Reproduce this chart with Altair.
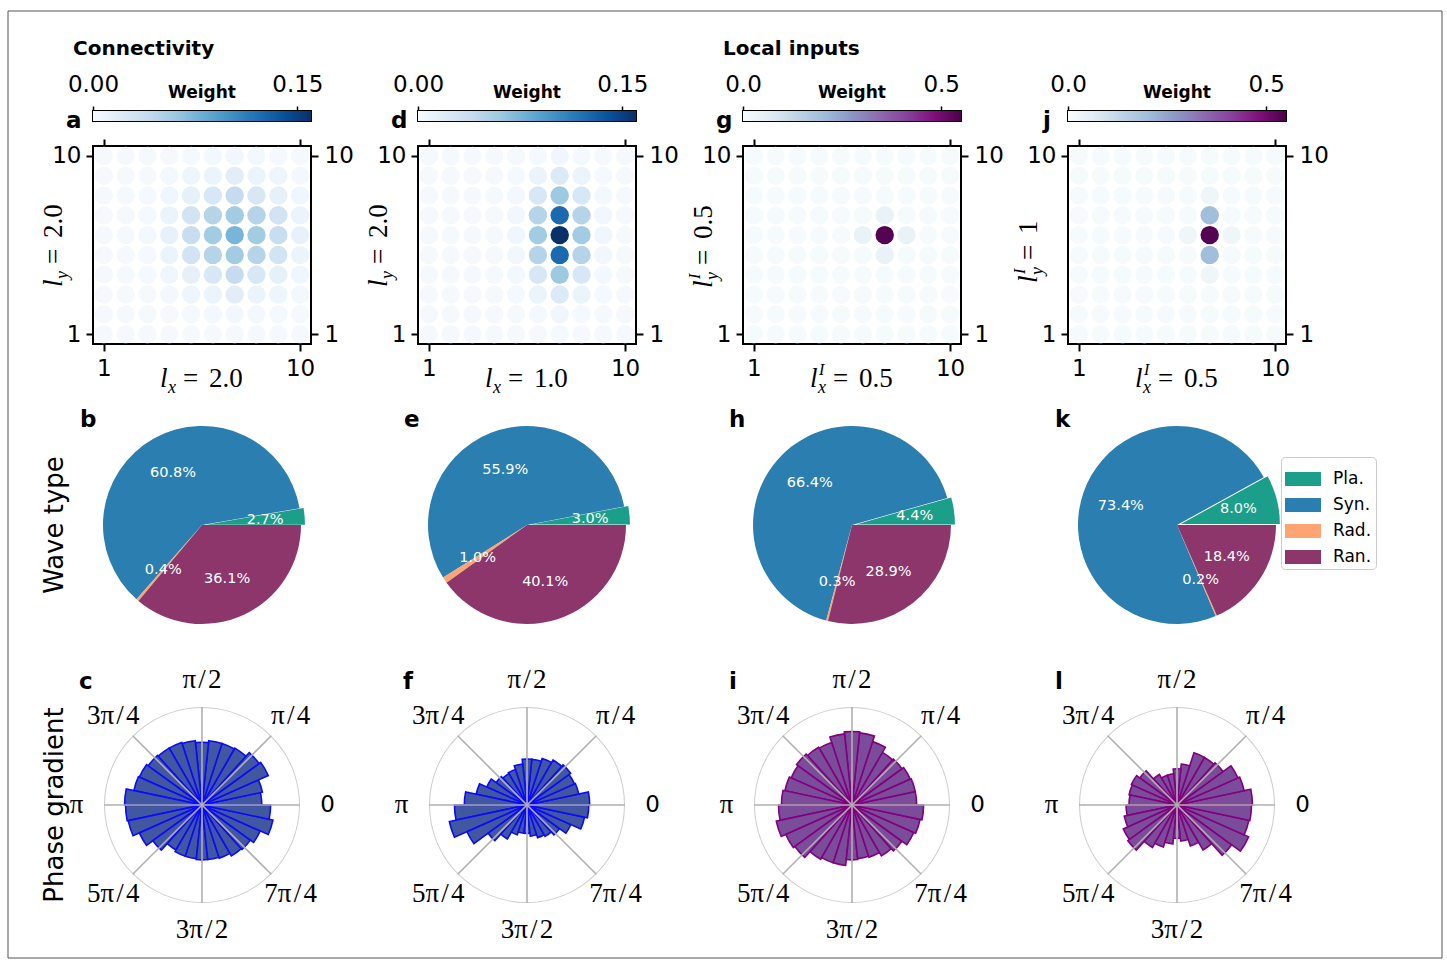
import math
import altair as alt
import pandas as pd

SANS = "DejaVu Sans"
SERIF = "Liberation Serif"

# ---------------- data ----------------
GRID_TICKS = [1, 10]

# connectivity / input weights on the 10x10 grid, rows from y = 10 (top) to y = 1
W_A = [
    [.002, .002, .002, .002, .003, .004, .005, .004, .003, .002],
    [.002, .002, .002, .004, .007, .010, .017, .010, .007, .004],
    [.002, .002, .003, .006, .014, .025, .040, .025, .014, .006],
    [.002, .002, .003, .009, .030, .048, .058, .048, .030, .009],
    [.002, .002, .004, .012, .038, .058, .075, .058, .038, .012],
    [.002, .002, .003, .009, .030, .048, .058, .048, .030, .009],
    [.002, .002, .003, .006, .014, .025, .040, .025, .014, .006],
    [.002, .002, .002, .004, .007, .010, .017, .010, .007, .004],
    [.002, .002, .002, .002, .003, .004, .005, .004, .003, .002],
    [.002, .002, .002, .002, .002, .002, .002, .002, .002, .002],
]
W_D = [
    [.002, .002, .002, .002, .002, .003, .006, .003, .002, .002],
    [.002, .002, .002, .002, .003, .010, .022, .010, .003, .002],
    [.002, .002, .002, .002, .004, .025, .060, .025, .004, .002],
    [.002, .002, .002, .002, .005, .048, .125, .048, .005, .002],
    [.002, .002, .002, .002, .006, .058, .160, .058, .006, .002],
    [.002, .002, .002, .002, .005, .048, .125, .048, .005, .002],
    [.002, .002, .002, .002, .004, .025, .060, .025, .004, .002],
    [.002, .002, .002, .002, .003, .010, .022, .010, .003, .002],
    [.002, .002, .002, .002, .002, .003, .006, .003, .002, .002],
    [.002, .002, .002, .002, .002, .002, .003, .002, .002, .002],
]
W_G = [
    [.006, .006, .006, .006, .006, .006, .006, .006, .006, .006],
    [.006, .006, .006, .006, .006, .006, .006, .006, .006, .006],
    [.006, .006, .006, .006, .006, .006, .006, .006, .006, .006],
    [.006, .006, .006, .006, .006, .006, .045, .006, .006, .006],
    [.006, .006, .006, .006, .006, .045, .540, .045, .006, .006],
    [.006, .006, .006, .006, .006, .006, .045, .006, .006, .006],
    [.006, .006, .006, .006, .006, .006, .006, .006, .006, .006],
    [.006, .006, .006, .006, .006, .006, .006, .006, .006, .006],
    [.006, .006, .006, .006, .006, .006, .006, .006, .006, .006],
    [.006, .006, .006, .006, .006, .006, .006, .006, .006, .006],
]
W_J = [
    [.006, .006, .006, .006, .006, .006, .006, .006, .006, .006],
    [.006, .006, .006, .006, .006, .006, .006, .006, .006, .006],
    [.006, .006, .006, .006, .006, .006, .025, .006, .006, .006],
    [.006, .006, .006, .006, .006, .006, .200, .006, .006, .006],
    [.006, .006, .006, .006, .006, .025, .540, .025, .006, .006],
    [.006, .006, .006, .006, .006, .006, .200, .006, .006, .006],
    [.006, .006, .006, .006, .006, .006, .025, .006, .006, .006],
    [.006, .006, .006, .006, .006, .006, .006, .006, .006, .006],
    [.006, .006, .006, .006, .006, .006, .006, .006, .006, .006],
    [.006, .006, .006, .006, .006, .006, .006, .006, .006, .006],
]

BLUES = ["#f7fbff", "#deebf7", "#c6dbef", "#9ecae1", "#6baed6",
         "#4292c6", "#2171b5", "#08519c", "#08306b"]
BUPU = ["#f7fcfd", "#e0ecf4", "#bfd3e6", "#9ebcda", "#8c96c6",
        "#8c6bb1", "#88419d", "#810f7c", "#4d004b"]
VMAX_CONN = 0.16
VMAX_INPUT = 0.55

# wave-type shares (percent)
WAVE_TYPES = ["Pla.", "Syn.", "Rad.", "Ran."]
WAVE_COLORS = ["#1b9e8a", "#2a7fb0", "#fca572", "#8c366b"]
SHARE_B = [2.7, 60.8, 0.4, 36.1]
SHARE_E = [3.0, 55.9, 1.0, 40.1]
SHARE_H = [4.4, 66.4, 0.3, 28.9]
SHARE_K = [8.0, 73.4, 0.2, 18.4]

# phase-gradient direction histograms: 30 bins of 12 degrees, from 0 counter-clockwise
BIN_DEG = 12
ROSE_C = [.61, .63, .74, .72, .67, .66, .66, .64, .66, .67, .67, .68, .70, .71, .79,
          .78, .77, .70, .62, .53, .55, .55, .56, .56, .57, .60, .61, .65, .74, .70]
ROSE_F = [.64, .54, .53, .55, .53, .50, .47, .47, .42, .38, .37, .39, .45, .53, .64,
          .74, .81, .67, .49, .40, .32, .29, .29, .32, .35, .37, .41, .49, .60, .63]
ROSE_I = [.66, .66, .65, .63, .62, .68, .74, .75, .73, .67, .68, .70, .68, .70, .72,
          .75, .79, .74, .72, .64, .62, .62, .56, .55, .56, .60, .63, .69, .71, .73]
ROSE_L = [.77, .70, .68, .58, .56, .56, .42, .37, .32, .32, .36, .47, .51, .50, .49,
          .52, .55, .60, .62, .50, .45, .40, .34, .37, .44, .53, .69, .80, .75, .76]

SPOKES = [0, 45, 90, 135, 180, 225, 270, 315]
HS = "\u200a"
SPOKE_LABELS = ["0", f"π{HS}/{HS}4", f"π{HS}/{HS}2", f"3π{HS}/{HS}4", "π",
                f"5π{HS}/{HS}4", f"3π{HS}/{HS}2", f"7π{HS}/{HS}4"]

# ---------------- layout ----------------
PW = 218
CB_H = 10
HEAT_H = 198
PIE_H = 312
ROSE_H = 198
PIE_R = 99
ROSE_R = 98
EXPLODE = 4
THETA_RANGE = [2.5 * math.pi, 0.5 * math.pi]   # 0 at east, counter-clockwise


def one(**kw):
    return pd.DataFrame({k: [v] for k, v in kw.items()})


def text_layer(txt, x, y, size, font=SANS, weight="normal", style="normal",
               align="left", baseline="alphabetic", angle=0, dx=0, dy=0):
    kw = dict(align=align, baseline=baseline, font=font, fontSize=size,
              fontWeight=weight, fontStyle=style, color="black", dx=dx, dy=dy)
    if angle:
        kw["angle"] = angle
    return alt.Chart(one(t=txt)).mark_text(**kw).encode(
        x=alt.value(x), y=alt.value(y), text="t:N")


def math_label(base, sub, value, x, y, sup=None, angle=0):
    """l_{sub}^{sup} = value, typeset from separate text pieces."""
    parts = [text_layer("l", x, y, 27, SERIF, style="italic", angle=angle)]
    if sup:
        parts.append(text_layer(sup, x, y, 16, SERIF, style="italic", angle=angle, dx=9, dy=-12))
    parts.append(text_layer(sub, x, y, 18, SERIF, style="italic", angle=angle, dx=8, dy=6))
    parts.append(text_layer("=", x, y, 27, SERIF, angle=angle, dx=23))
    parts.append(text_layer(value, x, y, 27, SERIF, angle=angle, dx=49))
    return parts


def colorbar_panel(colors, vmax, ticks, fmt, letter, letter_x, title=None, frame=False):
    stops = [alt.GradientStop(color=c, offset=i / (len(colors) - 1)) for i, c in enumerate(colors)]
    bar = alt.Chart(one(lo=0.0, hi=vmax)).mark_rect(
        fill=alt.Gradient(gradient="linear", stops=stops, x1=0, x2=1, y1=0, y2=0)
    ).encode(
        x=alt.X("lo:Q", scale=alt.Scale(domain=[0, vmax], nice=False, zero=True),
                axis=alt.Axis(orient="top", values=ticks, format=fmt, title=None, grid=False,
                              domain=False, tickSize=5, tickWidth=1.5, tickColor="black",
                              labelFont=SANS, labelFontSize=23, labelColor="black",
                              labelPadding=15, labelBaseline="alphabetic", labelFlush=False,
                              labelOverlap=False)),
        x2="hi:Q", y=alt.value(0), y2=alt.value(CB_H))
    layers = [bar,
              text_layer("Weight", PW / 2, -13, 17, weight="bold", align="center"),
              text_layer(letter, letter_x, 17, 23, weight="bold")]
    if title:
        layers.append(text_layer(title, -20, -56, 20, weight="bold"))
    if frame:
        layers.append(alt.Chart(one(k=0)).mark_rect(fill="white", fillOpacity=0, stroke="#555555",
                                                    strokeWidth=1).encode(
            x=alt.value(-85), x2=alt.value(1349), y=alt.value(-100), y2=alt.value(847)))
    return alt.layer(*layers).properties(
        width=PW, height=CB_H, view=alt.ViewBackground(stroke="black", strokeWidth=2))


def heat_panel(rows, colors, vmax, xlab, ylab, ystart, sup=None):
    recs = []
    for i, row in enumerate(rows):
        for j, w in enumerate(row):
            recs.append({"gx": j + 1, "gy": 10 - i, "w": w})
    df = pd.DataFrame(recs)
    sc = alt.Scale(domain=[0.5, 10.5], nice=False, zero=False)
    ax = dict(values=GRID_TICKS, title=None, grid=False, domain=False, tickSize=7, tickWidth=2,
              tickColor="black", labelFont=SANS, labelFontSize=23, labelColor="black",
              labelFlush=False, labelOverlap=False)
    cscale = alt.Scale(domain=[vmax * i / (len(colors) - 1) for i in range(len(colors))],
                       range=colors, interpolate="rgb", clamp=True)
    dots = alt.Chart(df).mark_circle(size=340, opacity=1).encode(
        x=alt.X("gx:Q", scale=sc, axis=alt.Axis(orient="bottom", labelPadding=6, **ax)),
        y=alt.Y("gy:Q", scale=sc, axis=alt.Axis(orient="left", labelPadding=5, **ax)),
        color=alt.Color("w:Q", scale=cscale, legend=None))
    frame_axes = alt.Chart(df).mark_circle(opacity=0).encode(
        x=alt.X("gx:Q", scale=sc, axis=alt.Axis(orient="top", labels=False, **ax)),
        y=alt.Y("gy:Q", scale=sc, axis=alt.Axis(orient="right", labelPadding=6, **ax)))
    layers = [dots, frame_axes]
    layers += math_label("l", "x", xlab, 67, 241, sup=sup)
    layers += math_label("l", "y", ylab, -31, ystart, sup=sup, angle=270)
    return alt.layer(*layers).properties(
        width=PW, height=HEAT_H, view=alt.ViewBackground(stroke="black", strokeWidth=2))


def pie_panel(shares, letter, letter_x, legend=False, row_title=None):
    df = pd.DataFrame({"cat": WAVE_TYPES, "v": shares, "o": list(range(len(shares))),
                       "lab": [f"{v:.1f}%" for v in shares]})
    first = df.iloc[:1]
    theta = alt.Theta("v:Q", stack=True, scale=alt.Scale(domain=[0, 100], range=THETA_RANGE))
    order = alt.Order("o:Q")
    hide_first = alt.condition(alt.datum.cat == WAVE_TYPES[0], alt.value(0), alt.value(1))
    if legend:
        leg = alt.Legend(orient="none", legendX=213, legendY=88, title=None, fillColor="white",
                         strokeColor="#cccccc", cornerRadius=4, padding=4,
                         symbolType="M-1,-0.39H1V0.39H-1Z", symbolSize=1296,
                         symbolStrokeWidth=0, symbolOpacity=1, labelFont=SANS,
                         labelFontSize=17, labelColor="black", labelOffset=12, rowPadding=0)
    else:
        leg = None
    color = alt.Color("cat:N", scale=alt.Scale(domain=WAVE_TYPES, range=WAVE_COLORS), legend=leg)
    # the first wedge is pulled out along its bisector
    half = shares[0] / 100 * math.pi
    cx = PW / 2 + EXPLODE * math.cos(half)
    cy = PIE_H / 2 - EXPLODE * math.sin(half)
    wedges = alt.Chart(df).mark_arc(radius=PIE_R).encode(
        theta=theta, order=order, color=color, opacity=hide_first)
    pulled = alt.Chart(first).mark_arc(radius=PIE_R, fill=WAVE_COLORS[0]).encode(
        theta=theta, order=order, x=alt.value(cx), y=alt.value(cy))
    tstyle = dict(radius=0.6 * PIE_R, font=SANS, fontSize=14.5, color="white")
    labels = alt.Chart(df).mark_text(**tstyle).encode(
        theta=theta, order=order, text="lab:N", opacity=hide_first)
    pulled_label = alt.Chart(first).mark_text(**tstyle).encode(
        theta=theta, order=order, text="lab:N", x=alt.value(cx), y=alt.value(cy))
    layers = [wedges, pulled, labels, pulled_label,
              text_layer(letter, letter_x, 58, 23, weight="bold")]
    if row_title:
        layers.append(text_layer(row_title, -38, PIE_H / 2, 26, align="center",
                                 baseline="middle", angle=270))
    return alt.layer(*layers).properties(width=PW, height=PIE_H)


def rose_panel(radii, fill, edge, letter, letter_x, row_title=None):
    df = pd.DataFrame({"a0": [BIN_DEG * i for i in range(len(radii))],
                       "a1": [BIN_DEG * (i + 1) for i in range(len(radii))],
                       "r": radii})
    th = alt.Scale(domain=[0, 360], range=THETA_RANGE)
    rs = alt.Scale(type="linear", domain=[0, 1], range=[0, ROSE_R], zero=True, nice=False)
    ring = alt.Chart(one(a0=0, a1=360, r=1.0, ri=1.0 - 1.0 / ROSE_R)).mark_arc(fill="#cccccc").encode(
        theta=alt.Theta("a0:Q", scale=th, stack=False), theta2="a1:Q",
        radius=alt.Radius("r:Q", scale=rs, stack=False), radius2="ri:Q")
    bars = alt.Chart(df).mark_arc(fill=fill, stroke=edge, strokeWidth=1.6).encode(
        theta=alt.Theta("a0:Q", scale=th, stack=False), theta2="a1:Q",
        radius=alt.Radius("r:Q", scale=rs, stack=False), radius2=alt.value(0))
    sp = pd.DataFrame({"a": SPOKES})
    sp["x0"] = 0.0
    sp["y0"] = 0.0
    sp["x1"] = [math.cos(math.radians(a)) for a in SPOKES]
    sp["y1"] = [math.sin(math.radians(a)) for a in SPOKES]
    xs = alt.Scale(domain=[-PW / 2 / ROSE_R, PW / 2 / ROSE_R], nice=False, zero=False)
    ys = alt.Scale(domain=[-ROSE_H / 2 / ROSE_R, ROSE_H / 2 / ROSE_R], nice=False, zero=False)
    spokes = alt.Chart(sp).mark_rule(color="#b0b0b0", strokeWidth=1.6).encode(
        x=alt.X("x0:Q", scale=xs, axis=None), y=alt.Y("y0:Q", scale=ys, axis=None),
        x2="x1:Q", y2="y1:Q")
    lab = pd.DataFrame({"a": SPOKES, "t": SPOKE_LABELS, "rr": [1.28] * len(SPOKES)})
    tick_enc = dict(theta=alt.Theta("a:Q", scale=th, stack=False),
                    radius=alt.Radius("rr:Q", scale=rs, stack=False), text="t:N")
    pi_labels = alt.Chart(lab.iloc[1:]).mark_text(font=SERIF, fontSize=27, color="black").encode(**tick_enc)
    zero_label = alt.Chart(lab.iloc[:1]).mark_text(font=SANS, fontSize=23, color="black").encode(**tick_enc)
    layers = [ring, bars, spokes, pi_labels, zero_label,
              text_layer(letter, letter_x, -17, 23, weight="bold")]
    if row_title:
        layers.append(text_layer(row_title, -38, ROSE_H / 2, 26, align="center",
                                 baseline="middle", angle=270))
    return alt.layer(*layers).properties(width=PW, height=ROSE_H)


BLUE_FILL, BLUE_EDGE = "#41579f", "#0a0aff"
PURPLE_FILL, PURPLE_EDGE = "#7b4c99", "#800080"

panels = [
    colorbar_panel(BLUES, VMAX_CONN, [0, 0.15], ".2f", "a", -27, title="Connectivity", frame=True),
    colorbar_panel(BLUES, VMAX_CONN, [0, 0.15], ".2f", "d", -27),
    colorbar_panel(BUPU, VMAX_INPUT, [0, 0.5], ".1f", "g", -27, title="Local inputs"),
    colorbar_panel(BUPU, VMAX_INPUT, [0, 0.5], ".1f", "j", -25),
    heat_panel(W_A, BLUES, VMAX_CONN, "2.0", "2.0", 141),
    heat_panel(W_D, BLUES, VMAX_CONN, "1.0", "2.0", 141),
    heat_panel(W_G, BUPU, VMAX_INPUT, "0.5", "0.5", 142, sup="I"),
    heat_panel(W_J, BUPU, VMAX_INPUT, "0.5", "1", 137, sup="I"),
    pie_panel(SHARE_B, "b", -13, row_title="Wave type"),
    pie_panel(SHARE_E, "e", -14),
    pie_panel(SHARE_H, "h", -14),
    pie_panel(SHARE_K, "k", -13, legend=True),
    rose_panel(ROSE_C, BLUE_FILL, BLUE_EDGE, "c", -14, row_title="Phase gradient"),
    rose_panel(ROSE_F, BLUE_FILL, BLUE_EDGE, "f", -15),
    rose_panel(ROSE_I, PURPLE_FILL, PURPLE_EDGE, "i", -14),
    rose_panel(ROSE_L, PURPLE_FILL, PURPLE_EDGE, "l", -13),
]

chart = alt.concat(
    *panels, columns=4, spacing={"row": 25, "column": 107}, bounds="flush"
).resolve_scale(
    x="independent", y="independent", color="independent", theta="independent",
    radius="independent", opacity="independent"
).properties(
    padding={"left": 6, "top": 9, "right": 1, "bottom": 0}
).configure_view(stroke="transparent")

chart.save("out.html", embed_options={"renderer": "svg", "actions": False})
